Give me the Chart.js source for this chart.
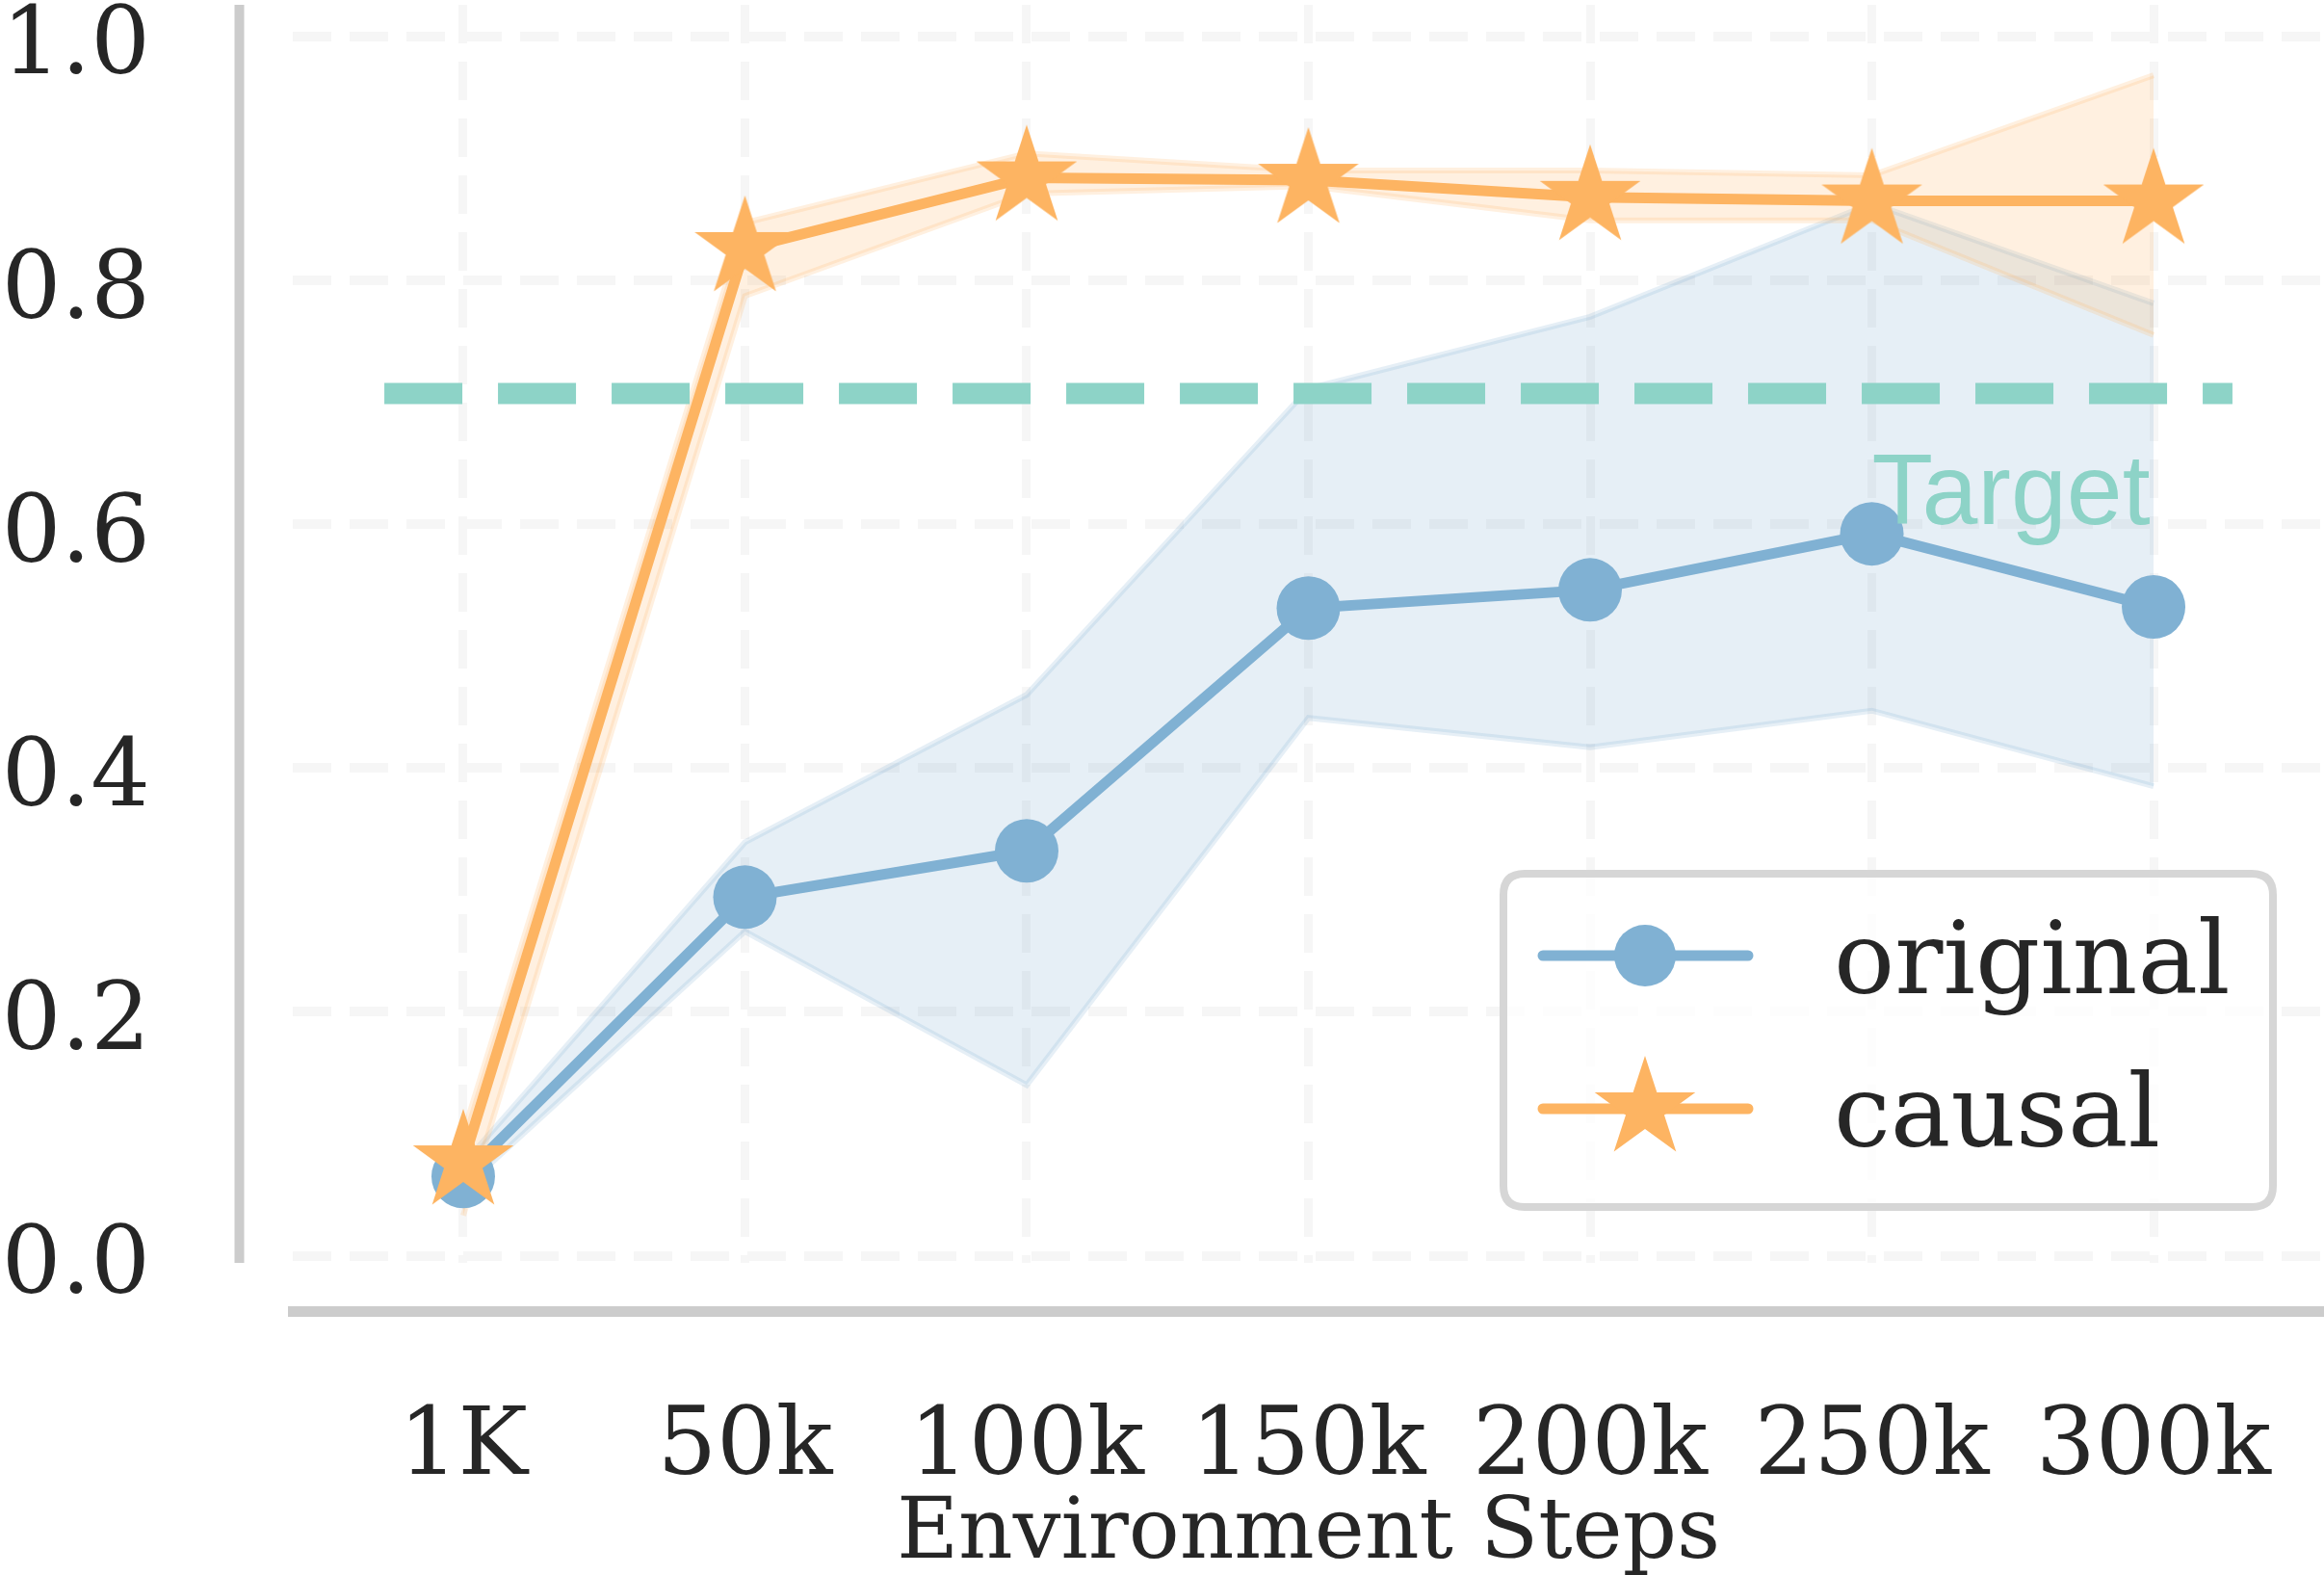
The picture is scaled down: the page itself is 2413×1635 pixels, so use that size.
<!DOCTYPE html>
<html><head><meta charset="utf-8">
<script src="https://cdn.jsdelivr.net/npm/chart.js@4.4.0/dist/chart.umd.min.js"></script>
<style>html,body{margin:0;padding:0;background:#fff;overflow:hidden}canvas{display:block}</style>
</head><body>
<canvas id="c" width="2413" height="1635" style="width:2413px;height:1635px"></canvas>
<script>
// ---- data ----
const xLabels = ['1K', '50k', '100k', '150k', '200k', '250k', '300k'];
const yTickValues = [0, 0.2, 0.4, 0.6, 0.8, 1.0];
const originalMean  = [0.065, 0.294, 0.332, 0.531, 0.546, 0.592, 0.532];
const originalUpper = [0.075, 0.339, 0.460, 0.711, 0.770, 0.863, 0.781];
const originalLower = [0.055, 0.266, 0.140, 0.441, 0.417, 0.447, 0.385];
const causalMean  = [0.077, 0.826, 0.884, 0.882, 0.868, 0.865, 0.865];
const causalUpper = [0.100, 0.847, 0.904, 0.890, 0.890, 0.886, 0.968];
const causalLower = [0.033, 0.787, 0.871, 0.877, 0.849, 0.849, 0.755];
const targetLevel = 0.707;
const targetSpan = [-0.28, 6.28];
const targetLabel = 'Target';
const targetLabelPos = [5, 0.6];
const seriesNames = ['original', 'causal'];

// ---- styles ----
const BLUE = '#80b1d3', ORANGE = '#fdb462', TEAL = '#8dd3c7', TEXT = '#262626';
const BLUE_A = 'rgba(128,177,211,0.2)', ORANGE_A = 'rgba(253,180,98,0.2)';
const GRID = '#f6f6f6';
const SERIF = '"DejaVu Serif", serif';

function makeStar(R, color) {
  const c = document.createElement('canvas');
  const s = Math.ceil(2 * R + 4);
  c.width = s; c.height = s;
  const g = c.getContext('2d');
  g.translate(s / 2, s / 2);
  g.beginPath();
  for (let i = 0; i < 10; i++) {
    const r = i % 2 === 0 ? R : R * 0.382;
    const a = -Math.PI / 2 + i * Math.PI / 5;
    g.lineTo(r * Math.cos(a), r * Math.sin(a));
  }
  g.closePath();
  g.fillStyle = color;
  g.fill();
  return c;
}
const starImg = makeStar(55, ORANGE);

const pts = arr => arr.map((v, i) => ({x: i, y: v}));

const datasets = [
  {label: seriesNames[1], data: pts(causalMean), borderColor: ORANGE, borderWidth: 11,
   pointStyle: starImg, pointRadius: 30, pointHoverRadius: 30, fill: false, order: 0},
  {label: seriesNames[0], data: pts(originalMean), borderColor: BLUE, backgroundColor: BLUE,
   pointBackgroundColor: BLUE, pointBorderWidth: 0, borderWidth: 11, pointRadius: 33, pointHoverRadius: 33,
   fill: false, order: 1},
  {label: 'target', data: [{x: targetSpan[0], y: targetLevel}, {x: targetSpan[1], y: targetLevel}],
   borderColor: TEAL, borderWidth: 22, borderDash: [81, 37], pointRadius: 0, fill: false, order: 2},
  {label: 'causal upper', data: pts(causalUpper), borderColor: ORANGE_A, borderWidth: 6,
   backgroundColor: ORANGE_A, pointRadius: 0, fill: '+1', order: 3},
  {label: 'causal lower', data: pts(causalLower), borderColor: ORANGE_A, borderWidth: 6,
   pointRadius: 0, fill: false, order: 4},
  {label: 'original upper', data: pts(originalUpper), borderColor: BLUE_A, borderWidth: 6,
   backgroundColor: BLUE_A, pointRadius: 0, fill: '+1', order: 5},
  {label: 'original lower', data: pts(originalLower), borderColor: BLUE_A, borderWidth: 6,
   pointRadius: 0, fill: false, order: 6}
];

const spinePlugin = {
  id: 'spines',
  afterDraw(chart) {
    const ctx = chart.ctx, a = chart.chartArea;
    ctx.save();
    ctx.strokeStyle = '#cccccc';
    ctx.lineCap = 'butt';
    ctx.lineWidth = 10;
    ctx.beginPath(); ctx.moveTo(a.left - 55.5, a.top); ctx.lineTo(a.left - 55.5, a.bottom); ctx.stroke();
    ctx.lineWidth = 11;
    ctx.beginPath(); ctx.moveTo(a.left - 5, a.bottom + 50.5); ctx.lineTo(a.right, a.bottom + 50.5); ctx.stroke();
    ctx.restore();
  }
};

const annotPlugin = {
  id: 'annot',
  afterDatasetsDraw(chart) {
    const ctx = chart.ctx;
    const xs = chart.scales.x, ys = chart.scales.y;
    ctx.save();
    // Target label
    ctx.fillStyle = TEAL;
    ctx.font = '104px "Liberation Sans", Arial, sans-serif';
    ctx.textAlign = 'left';
    ctx.textBaseline = 'alphabetic';
    ctx.fillText(targetLabel, xs.getPixelForValue(targetLabelPos[0]), ys.getPixelForValue(targetLabelPos[1]));

    // Legend box
    const bx = 1561, by = 907, bw = 799, bh = 346, r = 22;
    ctx.beginPath();
    ctx.moveTo(bx + r, by);
    ctx.lineTo(bx + bw - r, by);
    ctx.quadraticCurveTo(bx + bw, by, bx + bw, by + r);
    ctx.lineTo(bx + bw, by + bh - r);
    ctx.quadraticCurveTo(bx + bw, by + bh, bx + bw - r, by + bh);
    ctx.lineTo(bx + r, by + bh);
    ctx.quadraticCurveTo(bx, by + bh, bx, by + bh - r);
    ctx.lineTo(bx, by + r);
    ctx.quadraticCurveTo(bx, by, bx + r, by);
    ctx.closePath();
    ctx.fillStyle = 'rgba(255,255,255,0.8)';
    ctx.fill();
    ctx.strokeStyle = '#d6d6d6';
    ctx.lineWidth = 8;
    ctx.stroke();

    const entries = [
      {ds: chart.data.datasets[1], y: 992, marker: 'circle'},
      {ds: chart.data.datasets[0], y: 1151, marker: 'star'}
    ];
    entries.forEach(e => {
      ctx.strokeStyle = e.ds.borderColor;
      ctx.lineWidth = 11;
      ctx.lineCap = 'round';
      ctx.beginPath(); ctx.moveTo(1602, e.y); ctx.lineTo(1815, e.y); ctx.stroke();
      if (e.marker === 'circle') {
        ctx.fillStyle = e.ds.borderColor;
        ctx.beginPath(); ctx.arc(1708, e.y, 32, 0, Math.PI * 2); ctx.fill();
      } else {
        ctx.drawImage(starImg, 1708 - starImg.width / 2, e.y - starImg.height / 2);
      }
      ctx.fillStyle = TEXT;
      ctx.font = '105px ' + SERIF;
      ctx.textAlign = 'left';
      ctx.textBaseline = 'alphabetic';
      ctx.fillText(e.ds.label, 1904, e.y + 39);
    });
    ctx.restore();
  }
};

const zeroPad = s => { s.paddingTop = 0; s.paddingBottom = 0; s.paddingLeft = 0; s.paddingRight = 0; };

new Chart(document.getElementById('c'), {
  type: 'line',
  data: {datasets},
  options: {
    responsive: false,
    animation: false,
    devicePixelRatio: 1,
    layout: {autoPadding: false, padding: {top: 5, bottom: 0, left: 0, right: 0}},
    plugins: {legend: {display: false}, tooltip: {enabled: false}},
    elements: {line: {tension: 0}},
    scales: {
      x: {
        type: 'linear', min: -0.605, max: 6.605,
        afterBuildTicks: s => { s.ticks = xLabels.map((_, i) => ({value: i})); },
        afterFit: s => { s.height = 324; zeroPad(s); },
        ticks: {callback: v => xLabels[v], font: {family: SERIF, size: 97}, color: TEXT,
                padding: 136, maxRotation: 0, autoSkip: false},
        title: {display: true, text: 'Environment Steps', color: TEXT,
                font: {family: SERIF, size: 88, lineHeight: 0.918}, padding: 0},
        grid: {color: GRID, lineWidth: 9, drawTicks: false},
        border: {display: false, dash: [40, 19]}
      },
      y: {
        min: -0.0059, max: 1.0258,
        afterBuildTicks: s => { s.ticks = yTickValues.map(v => ({value: v})); },
        afterFit: s => { s.width = 304; zeroPad(s); },
        // two-line label with an empty first line nudges the text down to sit like the reference
        ticks: {callback: v => ['', Number(v).toFixed(1)],
                font: {family: SERIF, size: 97, lineHeight: 0.28}, color: TEXT, padding: 148},
        grid: {color: GRID, lineWidth: 10, drawTicks: false},
        border: {display: false, dash: [40, 19]}
      }
    }
  },
  plugins: [spinePlugin, annotPlugin]
});
</script>
</body></html>
